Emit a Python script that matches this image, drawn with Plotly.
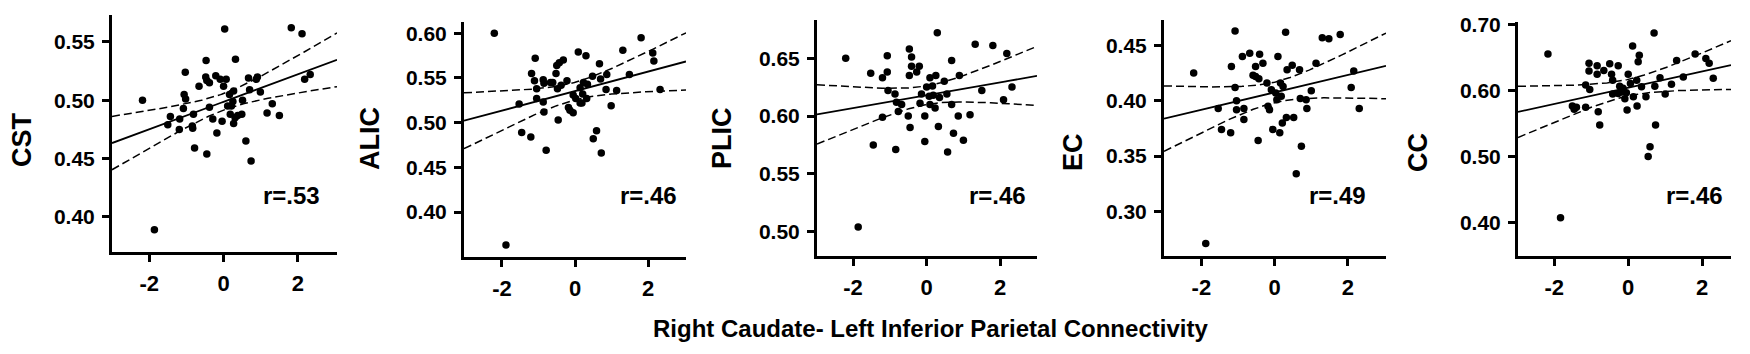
import numpy as np
import plotly.graph_objects as go

# page is 1750x354; the browser adds an 8px body margin, so the figure is drawn 8px in
OFF = 8
W, H = 1750 - OFF, 354 - OFF

labels = ["CST", "ALIC", "PLIC", "EC", "CC"]
r_labels = ["r=.53", "r=.46", "r=.46", "r=.49", "r=.46"]
x_title = "Right Caudate- Left Inferior Parietal Connectivity"

cst_x = [-1.86, -2.18, 0.03, 1.82, 2.11, 2.18, 2.33, -1.03, -0.47, 0.32, -1.06, -1.02, -1.08, -1.43,
         -1.50, -1.18, -1.19, -0.84, -0.83, -0.81, -0.78, -0.45, -0.66, -0.48, -0.45, -0.38, -0.38,
         -0.29, -0.18, -0.04, -0.21, -0.09, 0.07, 0.00, 0.16, 0.27, 0.11, 0.21, 0.18, 0.27, 0.31,
         0.38, 0.49, 0.51, 0.60, 0.74, 0.70, 0.67, 0.88, 0.91, 0.99, 1.17, 1.31, 1.50, 0.25]
cst_y = [0.389, 0.500, 0.561, 0.562, 0.557, 0.518, 0.522, 0.524, 0.534, 0.535, 0.505, 0.501, 0.493,
         0.486, 0.479, 0.484, 0.475, 0.478, 0.476, 0.488, 0.459, 0.454, 0.512, 0.520, 0.517, 0.515,
         0.494, 0.484, 0.472, 0.482, 0.521, 0.518, 0.518, 0.512, 0.505, 0.508, 0.495, 0.495, 0.488,
         0.480, 0.485, 0.487, 0.488, 0.500, 0.465, 0.448, 0.509, 0.519, 0.518, 0.520, 0.507, 0.489,
         0.497, 0.487, 0.499]

alic_x = [-2.21, -1.89, -1.53, -1.46, -1.21, -1.19, -1.09, -1.11, -1.05, -1.05, -0.85, -0.87, -0.85,
          -0.79, -0.67, -0.52, -0.50, -0.43, -0.32, -0.46, -0.48, -0.38, -0.22, -0.18, -0.14, -0.05,
          0.02, -0.05, 0.09, 0.30, 0.14, 0.21, 0.19, 0.23, 0.34, 0.32, 0.48, 0.67, 0.50, 0.59, 0.72,
          0.70, 0.87, 0.85, 0.99, 1.14, 1.31, 1.49, 1.81, 2.13, 2.16, 2.33, -0.87, 0.14, -0.61]
alic_y = [0.600, 0.363, 0.521, 0.489, 0.484, 0.555, 0.572, 0.547, 0.538, 0.527, 0.544, 0.523, 0.512,
          0.469, 0.545, 0.555, 0.564, 0.567, 0.570, 0.503, 0.538, 0.542, 0.547, 0.517, 0.514, 0.511,
          0.527, 0.531, 0.579, 0.575, 0.539, 0.532, 0.522, 0.545, 0.543, 0.527, 0.552, 0.566, 0.482,
          0.491, 0.466, 0.549, 0.554, 0.537, 0.519, 0.536, 0.581, 0.554, 0.595, 0.578, 0.569, 0.537,
          0.548, 0.522, 0.545]

plic_x = [-2.20, -1.86, -1.52, -1.45, -1.20, -1.07, -1.07, -1.05, -1.20, -0.86, -0.84, -0.82, -0.77,
          -0.68, -0.47, -0.41, -0.47, -0.41, -0.27, -0.20, -0.50, -0.45, -0.18, -0.05, -0.05, 0.00,
          0.09, 0.07, 0.16, 0.25, 0.18, 0.23, 0.29, 0.32, 0.35, 0.48, 0.55, 0.57, 0.68, 0.68, 0.73,
          0.86, 0.89, 1.00, 1.18, 1.32, 1.50, 1.80, 2.09, 2.18, 2.32, 0.09, -0.14]
plic_y = [0.650, 0.504, 0.637, 0.575, 0.633, 0.652, 0.638, 0.622, 0.599, 0.619, 0.571, 0.612, 0.604,
          0.610, 0.658, 0.651, 0.635, 0.643, 0.638, 0.643, 0.600, 0.590, 0.611, 0.600, 0.578, 0.625,
          0.633, 0.617, 0.626, 0.635, 0.618, 0.607, 0.672, 0.591, 0.616, 0.630, 0.619, 0.569, 0.648,
          0.610, 0.585, 0.600, 0.635, 0.579, 0.601, 0.662, 0.622, 0.661, 0.614, 0.654, 0.625, 0.610,
          0.619]

ec_x = [-2.21, -1.88, -1.54, -1.45, -1.20, -1.18, -1.08, -1.08, -1.04, -1.04, -0.88, -0.84, -0.84,
        -0.68, -0.52, -0.41, -0.32, -0.52, -0.43, -0.45, -0.21, -0.18, -0.14, -0.05, -0.09, 0.03,
        0.09, 0.06, 0.16, 0.23, 0.18, 0.30, 0.34, 0.32, 0.21, 0.48, 0.52, 0.59, 0.68, 0.73, 0.70,
        0.86, 0.88, 1.00, 1.13, 1.30, 1.48, 1.79, 2.09, 2.16, 2.31, 0.14, -0.59]
ec_y = [0.425, 0.271, 0.393, 0.374, 0.371, 0.431, 0.463, 0.412, 0.400, 0.392, 0.440, 0.393, 0.383,
        0.443, 0.431, 0.442, 0.434, 0.422, 0.420, 0.364, 0.416, 0.395, 0.392, 0.374, 0.410, 0.407,
        0.440, 0.401, 0.416, 0.413, 0.404, 0.462, 0.428, 0.385, 0.380, 0.432, 0.385, 0.334, 0.428,
        0.359, 0.402, 0.401, 0.393, 0.409, 0.434, 0.457, 0.456, 0.460, 0.412, 0.427, 0.393, 0.371,
        0.423]

cc_x = [-2.17, -1.83, -1.51, -1.46, -1.40, -1.15, -1.06, -1.06, -1.04, -1.15, -0.81, -0.77, -0.84,
        -0.84, -0.66, -0.50, -0.45, -0.27, -0.42, -0.42, -0.27, -0.23, -0.14, -0.05, 0.00, -0.03,
        0.12, 0.06, 0.14, 0.23, 0.24, 0.27, 0.30, 0.36, 0.48, 0.54, 0.59, 0.70, 0.72, 0.74, 0.86,
        1.00, 1.17, 1.31, 1.49, 1.81, 2.10, 2.19, 2.30, -0.09, -0.18]
cc_y = [0.656, 0.407, 0.577, 0.572, 0.575, 0.609, 0.642, 0.630, 0.602, 0.575, 0.568, 0.548, 0.638,
        0.625, 0.631, 0.641, 0.625, 0.638, 0.616, 0.595, 0.596, 0.607, 0.604, 0.597, 0.625, 0.571,
        0.668, 0.611, 0.591, 0.616, 0.577, 0.644, 0.654, 0.606, 0.591, 0.500, 0.515, 0.688, 0.607,
        0.548, 0.620, 0.595, 0.610, 0.646, 0.621, 0.656, 0.649, 0.642, 0.619, 0.588, 0.598]

xs = [cst_x, alic_x, plic_x, ec_x, cc_x]
ys = [cst_y, alic_y, plic_y, ec_y, cc_y]

y_ticks = [[0.40, 0.45, 0.50, 0.55], [0.40, 0.45, 0.50, 0.55, 0.60], [0.50, 0.55, 0.60, 0.65],
           [0.30, 0.35, 0.40, 0.45], [0.40, 0.50, 0.60, 0.70]]
x_ticks = [-2, 0, 2]
x_tick_text = ["-2", "0", "2"]

# layout geometry (page pixels)
px_x = [(112, 337), (464, 686), (817, 1037), (1164, 1386), (1518, 1731)]
px_y = [(15, 252), (21.7, 256.7), (20, 256), (20, 255.7), (21.7, 256)]
x_ranges = [(-3.0, 3.05), (-3.04, 3.04), (-2.98, 3.0), (-3.02, 3.04), (-2.98, 2.78)]
y_ranges = [(0.370, 0.573), (0.350, 0.613), (0.479, 0.683), (0.260, 0.473), (0.349, 0.705)]
ytitle_pos = [(22, 140), (370, 139), (722, 138), (1073, 152), (1418, 153)]
r_pos = [(291, 195), (648, 196), (998, 195), (1337, 195), (1694, 195)]
xtitle_pos = (930, 328)


def fx(px):
    return (px - OFF) / W


def fy(py):
    return 1 - (py - OFF) / H


FONT = "Liberation Sans, Arial, sans-serif"

fig = go.Figure()
annotations = []
for i in range(5):
    xa = "x" if i == 0 else f"x{i+1}"
    ya = "y" if i == 0 else f"y{i+1}"
    x = np.array(xs[i]); y = np.array(ys[i])
    n = len(x)
    b, a = np.polyfit(x, y, 1)
    resid = y - (a + b * x)
    s = np.sqrt(np.sum(resid ** 2) / (n - 2))
    sxx = np.sum((x - x.mean()) ** 2)
    t = 2.003
    xg = np.linspace(x_ranges[i][0], x_ranges[i][1], 200)
    yf = a + b * xg
    half = t * s * np.sqrt(1.0 / n + (xg - x.mean()) ** 2 / sxx)

    fig.add_trace(go.Scatter(x=xg, y=yf + half, mode="lines", xaxis=xa, yaxis=ya,
                             line=dict(color="black", width=1.5, dash="8px,4px"), showlegend=False))
    fig.add_trace(go.Scatter(x=xg, y=yf - half, mode="lines", xaxis=xa, yaxis=ya,
                             line=dict(color="black", width=1.5, dash="8px,4px"), showlegend=False))
    fig.add_trace(go.Scatter(x=xg, y=yf, mode="lines", xaxis=xa, yaxis=ya,
                             line=dict(color="black", width=1.8), showlegend=False))
    fig.add_trace(go.Scatter(x=x, y=y, mode="markers", xaxis=xa, yaxis=ya,
                             marker=dict(color="black", size=7.5), showlegend=False))

    axis_common = dict(showline=True, linecolor="black", linewidth=3, ticks="outside",
                       ticklen=7, tickwidth=2.5, tickcolor="black", showgrid=False, zeroline=False,
                       automargin=False)
    fig.update_layout(**{
        ("xaxis" if i == 0 else f"xaxis{i+1}"): dict(
            domain=[fx(px_x[i][0]), fx(px_x[i][1])], range=list(x_ranges[i]),
            tickvals=x_ticks, ticktext=x_tick_text, anchor=ya, ticklabelstandoff=3,
            tickfont=dict(family=FONT, size=22, color="black", weight="bold"), **axis_common),
        ("yaxis" if i == 0 else f"yaxis{i+1}"): dict(
            domain=[fy(px_y[i][1]), fy(px_y[i][0])], range=list(y_ranges[i]),
            tickvals=y_ticks[i], ticktext=[f"{v:.2f}" for v in y_ticks[i]], anchor=xa,
            ticklabelstandoff=3,
            tickfont=dict(family=FONT, size=21, color="black", weight="bold"), **axis_common),
    })
    annotations.append(dict(text=labels[i], x=fx(ytitle_pos[i][0]), y=fy(ytitle_pos[i][1]),
                            xref="paper", yref="paper", showarrow=False, textangle=-90,
                            font=dict(family=FONT, size=27, color="black", weight="bold"),
                            xanchor="center", yanchor="middle"))
    annotations.append(dict(text=r_labels[i], x=fx(r_pos[i][0]), y=fy(r_pos[i][1]),
                            xref="paper", yref="paper", showarrow=False,
                            font=dict(family=FONT, size=24, color="black", weight="bold"),
                            xanchor="center", yanchor="middle"))

annotations.append(dict(text=x_title, x=fx(xtitle_pos[0]), y=fy(xtitle_pos[1]), xref="paper",
                        yref="paper", showarrow=False, xanchor="center", yanchor="middle",
                        font=dict(family=FONT, size=24, color="black", weight="bold")))

fig.update_layout(template="none", width=W, height=H,
                  margin=dict(l=0, r=0, t=0, b=0, pad=0, autoexpand=False),
                  plot_bgcolor="white", paper_bgcolor="white", annotations=annotations)
fig.write_html("out.html")
